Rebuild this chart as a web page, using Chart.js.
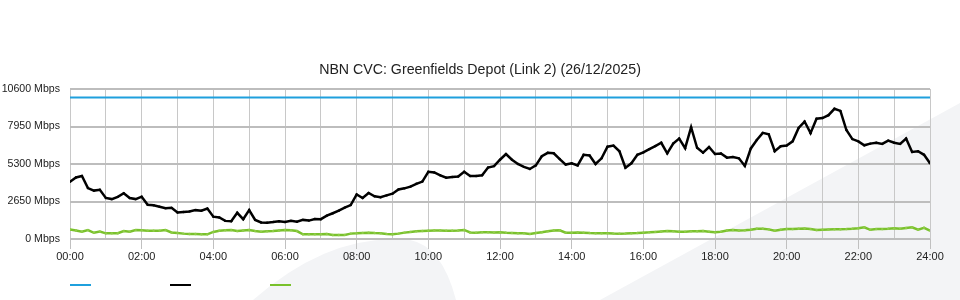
<!DOCTYPE html>
<html>
<head>
<meta charset="utf-8">
<title>NBN CVC: Greenfields Depot (Link 2)</title>
<script src="https://cdn.jsdelivr.net/npm/chart.js@4.4.1/dist/chart.umd.min.js"></script>
<style>
  html, body { margin: 0; padding: 0; background: #fff; }
  #wrap { width: 960px; height: 300px; }
</style>
</head>
<body>
<div id="wrap"><canvas id="cvc-chart" width="960" height="300"></canvas></div>
<script>
// ---- Data (Mbps, sampled every 10 minutes from 00:00 to 24:00) ----
const chartTitle = 'NBN CVC: Greenfields Depot (Link 2) (26/12/2025)';
const yTicks = [0, 2650, 5300, 7950, 10600];

// CVC capacity line
const capacityTimes  = [0, 1440];
const capacityValues = [10000, 10000];

// Download traffic (black)
const downValues = [
  4050, 4350, 4450, 3600, 3420, 3480, 2900, 2820, 2980, 3230, 2900, 2820,
  2990, 2420, 2390, 2280, 2180, 2200, 1870, 1910, 1950, 2040, 2000, 2150,
  1580, 1520, 1280, 1250, 1850, 1400, 2050, 1350, 1170, 1150, 1200, 1260,
  1200, 1280, 1220, 1350, 1300, 1410, 1400, 1650, 1820, 2000, 2220, 2400,
  3150, 2900, 3250, 3020, 2950, 3080, 3200, 3500, 3580, 3700, 3900, 4060,
  4750, 4700, 4500, 4330, 4380, 4420, 4750, 4450, 4450, 4500, 5050, 5150,
  5600, 6000, 5600, 5300, 5100, 4950, 5200, 5850, 6090, 6060, 5650, 5260,
  5350, 5200, 5950, 5900, 5300, 5700, 6520, 6600, 6200, 5040, 5350, 5950,
  6120, 6350, 6570, 6800, 6050, 6750, 7100, 6420, 7900, 6450, 6100, 6500,
  6010, 6040, 5750, 5800, 5700, 5160, 6400, 7000, 7500, 7400, 6200, 6550,
  6600, 6900, 7850, 8300, 7480, 8500, 8550, 8750, 9200, 9050, 7700, 7060,
  6900, 6620, 6740, 6800, 6720, 6950, 6800, 6720, 7100, 6150, 6200, 5950,
  5350
];

// Upload traffic (green)
const upValues = [
  680, 600, 520, 630, 440, 520, 400, 400, 410, 560, 520, 630,
  620, 590, 580, 580, 630, 460, 420, 380, 350, 350, 340, 330,
  500, 580, 620, 630, 560, 600, 640, 560, 520, 540, 565, 600,
  640, 620, 560, 330, 330, 330, 340, 350, 280, 280, 290, 380,
  400, 430, 450, 420, 400, 360, 330, 380, 450, 500, 540, 565,
  580, 600, 600, 590, 580, 600, 640, 460, 450, 480, 470, 460,
  470, 440, 420, 400, 400, 360, 420, 480, 540, 600, 620, 450,
  450, 460, 450, 420, 400, 400, 400, 380, 370, 380, 400, 420,
  450, 470, 500, 530, 560, 540, 520, 520, 540, 550, 565, 520,
  470, 520, 600, 640, 600, 620, 660, 720, 720, 680, 580, 650,
  710, 700, 720, 740, 700, 640, 660, 680, 690, 690, 700, 720,
  760, 830, 650, 700, 700, 720, 760, 720, 780, 830, 660, 790,
  600
];

const sampleMinutes = downValues.map((_, i) => i * 10);

// ---- Colours ----
const BLUE  = '#1fa0dd';
const BLACK = '#000000';
const GREEN = '#79c12c';
const FONT  = "'Liberation Sans', Arial, Helvetica, sans-serif";

function toPoints(times, values) {
  return values.map((v, i) => ({ x: times[i], y: v }));
}

function hhmm(mins) {
  const h = Math.floor(mins / 60);
  return (h < 10 ? '0' : '') + h + ':00';
}

// ---- Background watermark shapes ----
const watermark = {
  id: 'watermark',
  beforeDraw(chart) {
    const ctx = chart.ctx;
    ctx.save();
    ctx.fillStyle = '#f3f4f6';
    // diagonal band bottom right
    ctx.beginPath();
    ctx.moveTo(600, 300);
    ctx.lineTo(960, 103);
    ctx.lineTo(960, 300);
    ctx.closePath();
    ctx.fill();
    // rounded fin bottom centre-left
    ctx.beginPath();
    ctx.moveTo(253, 300);
    ctx.quadraticCurveTo(330, 232, 410, 240);
    ctx.quadraticCurveTo(442, 246, 456, 300);
    ctx.closePath();
    ctx.fill();
    ctx.restore();
  }
};

// ---- Title centred on the whole canvas (built-in title centres on the padded box) ----
const pageTitle = {
  id: 'pageTitle',
  afterDraw(chart) {
    const ctx = chart.ctx;
    ctx.save();
    ctx.fillStyle = '#222';
    ctx.font = '14.2px ' + FONT;
    ctx.textAlign = 'center';
    ctx.textBaseline = 'middle';
    ctx.fillText(chartTitle, chart.width / 2, 70);
    ctx.restore();
  }
};

// ---- Legend: plain line samples, no text ----
const lineLegend = {
  id: 'lineLegend',
  afterDraw(chart) {
    const ctx = chart.ctx;
    const left = chart.chartArea.left;
    ctx.save();
    ctx.lineWidth = 2;
    chart.data.datasets.forEach((ds, i) => {
      ctx.strokeStyle = ds.borderColor;
      ctx.beginPath();
      ctx.moveTo(left + i * 100, 285);
      ctx.lineTo(left + i * 100 + 21, 285);
      ctx.stroke();
    });
    ctx.restore();
  }
};

new Chart(document.getElementById('cvc-chart'), {
  type: 'line',
  data: {
    datasets: [
      {
        label: 'Capacity',
        data: toPoints(capacityTimes, capacityValues),
        borderColor: BLUE,
        borderWidth: 2,
        pointRadius: 0,
      },
      {
        label: 'Download',
        data: toPoints(sampleMinutes, downValues),
        borderColor: BLACK,
        borderWidth: 2.5,
        pointRadius: 1.2,
        pointBackgroundColor: BLACK,
        pointBorderWidth: 0,
      },
      {
        label: 'Upload',
        data: toPoints(sampleMinutes, upValues),
        borderColor: GREEN,
        borderWidth: 2.5,
        pointRadius: 1.2,
        pointBackgroundColor: '#8fcc48',
        pointBorderWidth: 0,
      }
    ]
  },
  options: {
    responsive: false,
    animation: false,
    parsing: false,
    elements: { line: { tension: 0 } },
    layout: { padding: { left: 0, right: 30, top: 89, bottom: 31 } },
    plugins: {
      legend: { display: false },
      tooltip: { enabled: false },
      title: { display: false }
    },
    scales: {
      x: {
        type: 'linear',
        min: 0,
        max: 1440,
        afterFit: s => { s.height = 30; },
        border: { display: false },
        grid: {
          color: '#c8c8c8',
          lineWidth: 1,
          tickLength: 10,
          tickColor: c => (c.tick && c.tick.value % 120 === 0) ? '#c0c0c0' : 'rgba(0,0,0,0)'
        },
        ticks: {
          stepSize: 60,
          autoSkip: false,
          maxRotation: 0,
          padding: 1,
          color: '#222',
          font: { family: FONT, size: 11 },
          callback: v => (v % 120 === 0) ? hhmm(v) : ''
        }
      },
      y: {
        min: 0,
        max: 10600,
        afterFit: s => { s.width = 70; },
        afterBuildTicks: s => { s.ticks = yTicks.map(v => ({ value: v })); },
        border: { display: false },
        grid: {
          color: '#bdbdbd',
          lineWidth: 2,
          drawTicks: false
        },
        ticks: {
          padding: 10,
          color: '#222',
          font: { family: FONT, size: 10.6 },
          callback: v => v + ' Mbps'
        }
      }
    }
  },
  plugins: [watermark, pageTitle, lineLegend]
});
</script>
</body>
</html>
